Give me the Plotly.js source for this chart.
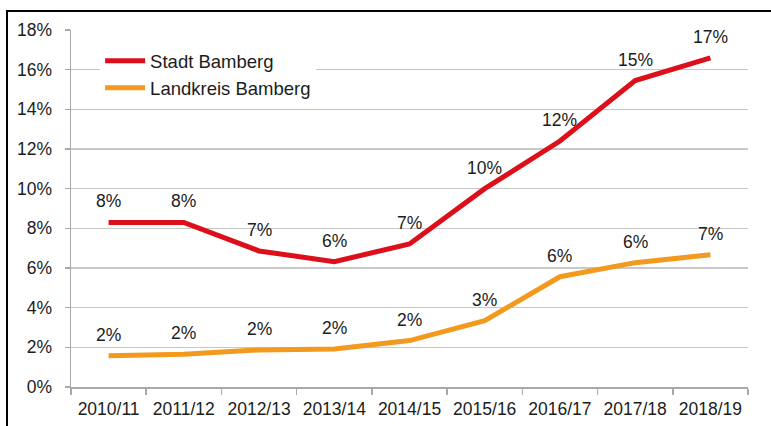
<!DOCTYPE html>
<html>
<head>
<meta charset="utf-8">
<script src="https://cdn.plot.ly/plotly-3.0.1.min.js"></script>
<style>
  html, body { margin: 0; padding: 0; background: #fff; }
  #wrap { position: relative; width: 771px; height: 426px; overflow: hidden; }
  #chart { width: 771px; height: 426px; }
  #frame { position: absolute; left: 6px; top: 10px; width: 900px; height: 600px;
           border-top: 2px solid #000; border-left: 2px solid #000; pointer-events: none; }
</style>
</head>
<body>
<div id="wrap">
  <div id="chart"></div>
  <div id="frame"></div>
</div>
<script>
const categories = ["2010/11","2011/12","2012/13","2013/14","2014/15","2015/16","2016/17","2017/18","2018/19"];
const seriesNames = ["Stadt Bamberg", "Landkreis Bamberg"];
const stadtValues = [8.3, 8.3, 6.86, 6.32, 7.21, 10.0, 12.4, 15.45, 16.6];
const landkreisValues = [1.58, 1.65, 1.87, 1.92, 2.34, 3.34, 5.56, 6.27, 6.67];
const stadtLabels = ["8%","8%","7%","6%","7%","10%","12%","15%","17%"];
const landkreisLabels = ["2%","2%","2%","2%","2%","3%","6%","6%","7%"];
const yTickVals = [0,2,4,6,8,10,12,14,16,18];
const yTickText = ["0%","2%","4%","6%","8%","10%","12%","14%","16%","18%"];

const colors = ["#dc0f1a", "#f39a1e"];
const textColor = "#1c1c1c";
const fontFamily = "Liberation Sans, Arial, sans-serif";

const traces = [
  { x: categories, y: stadtValues, name: seriesNames[0], type: "scatter", mode: "lines",
    line: { color: colors[0], width: 5 } },
  { x: categories, y: landkreisValues, name: seriesNames[1], type: "scatter", mode: "lines",
    line: { color: colors[1], width: 5 } }
];

function makeLabels(vals, labels) {
  return vals.map((v, i) => ({
    x: categories[i], y: v, xref: "x", yref: "y", text: labels[i],
    showarrow: false, yshift: 21, yanchor: "middle",
    font: { family: fontFamily, size: 17.5, color: textColor }
  }));
}

const layout = {
  width: 771, height: 426,
  margin: { l: 71, r: 23, t: 30, b: 39 },
  paper_bgcolor: "#fff", plot_bgcolor: "#fff",
  font: { family: fontFamily, size: 17, color: textColor },
  showlegend: true,
  legend: {
    x: 0.043, y: 0.966, xanchor: "left", yanchor: "top",
    bgcolor: "#fff", borderwidth: 0,
    font: { family: fontFamily, size: 18.5, color: textColor },
    itemwidth: 40, tracegroupgap: 0
  },
  xaxis: {
    type: "category", range: [-0.5, 8.5], fixedrange: true,
    showgrid: false, zeroline: false,
    showline: true, linecolor: "#a8a8a8", linewidth: 1.5,
    ticks: "outside", tickson: "boundaries", ticklen: 6, tickcolor: "#a8a8a8", tickwidth: 1.5,
    ticklabelstandoff: 5,
    tickfont: { family: fontFamily, size: 17.5, color: textColor }
  },
  yaxis: {
    range: [0, 18], fixedrange: true,
    tickvals: yTickVals, ticktext: yTickText,
    showgrid: true, gridcolor: "#c8c8c8", gridwidth: 1.5,
    zeroline: false,
    showline: true, linecolor: "#a8a8a8", linewidth: 1.5,
    ticks: "outside", ticklen: 5, tickcolor: "#a8a8a8", tickwidth: 1.5,
    ticklabelstandoff: 9,
    tickfont: { family: fontFamily, size: 17.5, color: textColor }
  },
  annotations: makeLabels(stadtValues, stadtLabels).concat(makeLabels(landkreisValues, landkreisLabels))
};

Plotly.newPlot("chart", traces, layout, { displayModeBar: false, staticPlot: true });
</script>
</body>
</html>
